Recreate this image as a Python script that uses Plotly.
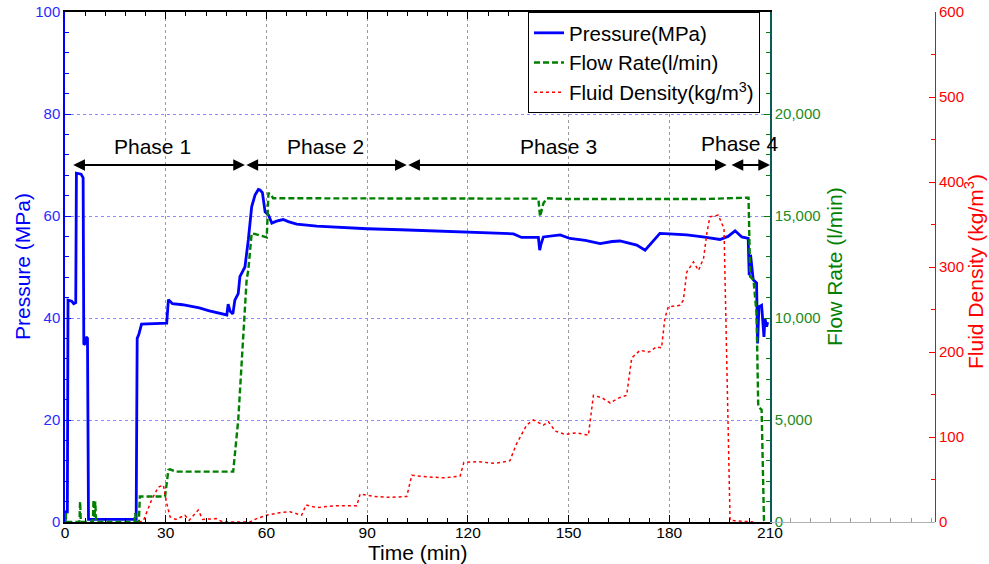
import plotly.graph_objects as go

# ---------------- data ----------------
pressure_time = [0, 0.3, 0.7, 0.9, 2.0, 2.6, 3.2, 3.4, 4.8, 5.4, 5.6, 6.0, 6.3, 6.7, 7.0,
                 21.2, 21.5, 22.0, 22.8, 26.0, 30.3, 30.8, 32.0, 35.0, 38.0, 40.0, 43.0, 46.0,
                 48.2, 48.6, 49.2, 50.0, 50.6, 51.6, 52.1, 53.6, 54.6, 55.6, 56.6, 57.6, 58.1,
                 58.8, 59.6, 60.6, 61.6, 63.0, 65.0, 66.5, 69.0, 75.0, 80.0, 90.0, 100.0, 105.0,
                 110.0, 120.0, 130.0, 133.6, 136.0, 141.0, 141.4, 141.8, 142.5, 147.5, 150.4,
                 155.0, 159.4, 163.0, 165.3, 170.3, 172.8, 174.0, 175.2, 177.2, 180.0, 185.2,
                 190.0, 195.1, 197.5, 199.6, 201.6, 203.5, 203.8, 204.2, 205.0, 206.0, 206.3,
                 206.7, 207.5, 208.2, 208.5, 209.0, 209.3]
pressure_mpa = [0, 2.0, 2.0, 43.5, 43.3, 42.8, 43.0, 68.4, 68.2, 67.5, 34.8, 35.0, 36.3, 36.0, 0.5,
                0.5, 36.0, 36.8, 38.8, 38.9, 39.0, 43.6, 42.8, 42.6, 42.3, 42.0, 41.4, 41.0,
                40.6, 42.7, 41.3, 40.8, 43.5, 44.8, 48.1, 50.0, 55.3, 61.8, 64.1, 65.2, 65.1,
                64.6, 60.8, 60.2, 58.6, 59.0, 59.3, 58.9, 58.4, 58.0, 57.8, 57.5, 57.3, 57.2,
                57.0, 56.8, 56.6, 56.5, 55.8, 55.8, 53.3, 54.5, 55.9, 56.3, 55.6,
                55.2, 54.6, 55.0, 55.1, 54.3, 53.3, 54.2, 55.3, 56.6, 56.5, 56.3,
                55.9, 55.4, 56.0, 57.1, 55.9, 55.6, 48.4, 52.4, 47.5, 46.9, 35.0,
                42.2, 42.5, 36.3, 39.9, 38.3, 39.2]

flow_time = [0, 0.2, 0.4, 4.3, 4.5, 4.7, 8.3, 8.5, 8.8, 9.0, 9.3, 20.7, 20.9, 21.2, 22.0, 22.3,
             29.8, 30.8, 31.3, 33.0, 49.8, 50.1, 51.6, 54.1, 54.6, 55.6, 57.0, 60.1, 60.6, 61.1,
             62.0, 100.0, 141.0, 141.5, 142.5, 143.5, 150.0, 190.0, 203.1, 203.6, 204.1, 205.1,
             206.0, 206.5, 207.5, 208.2, 208.5]
flow_lpm = [0, 440, 0, 0, 1000, 0, 0, 1080, 200, 1000, 0, 0, 440, 0, 0, 1250,
            1250, 2550, 2580, 2470, 2470, 2470, 5000, 11860, 12350, 14150, 14100, 13950, 16110, 16110,
            15870, 15850, 15850, 14970, 15620, 15870, 15830, 15830, 15915, 15900, 12025, 11860,
            10200, 5650, 5500, 100, 0]

density_time = [22.0, 23.3, 25.8, 27.8, 29.3, 30.3, 31.3, 33.0, 35.7, 37.0, 39.7, 41.0, 45.0, 47.0,
                55.1, 57.1, 60.1, 64.0, 67.0, 70.5, 71.8, 75.0, 80.0, 86.9, 87.9, 92.0, 97.0,
                101.8, 103.3, 108.0, 113.0, 117.7, 118.8, 123.0, 128.0, 132.5, 134.5, 137.5,
                139.5, 142.5, 144.0, 146.0, 149.0, 152.4, 155.9, 157.4, 160.0, 162.4, 165.0,
                167.3, 168.8, 171.3, 174.0, 176.2, 177.7, 178.7, 179.7, 183.2, 184.2, 185.2,
                187.2, 188.7, 190.2, 191.2, 192.1, 194.6, 196.1, 196.3, 198.1, 205.0]
density_kgm3 = [0, 1, 26, 41, 43.5, 22, 6, 3, 8, 2, 14, 3, 4, 0,
                0, 4, 8, 11, 12, 8, 20, 17, 19, 19, 33, 30, 29,
                30, 55, 53, 52, 54, 70, 71, 69, 72, 92, 114,
                120, 114, 118, 107, 103, 105, 102, 149, 146, 140, 146,
                149, 193, 202, 200, 206, 205, 240, 253, 255, 261, 294,
                306, 296, 310, 340, 359, 361, 347, 345, 2, 0]

time_ticks = [0, 30, 60, 90, 120, 150, 180, 210]
pressure_ticks = [0, 20, 40, 60, 80, 100]
flow_ticks = [0, 5000, 10000, 15000, 20000]
density_ticks = [0, 100, 200, 300, 400, 500, 600]

phase_names = ["Phase 1", "Phase 2", "Phase 3", "Phase 4"]
phase_start = [2.0, 53.6, 101.8, 198.1]
phase_end = [53.6, 101.8, 197.1, 210.0]
phase_label_time = [26.2, 77.5, 147.0, 200.8]
phase_label_pressure = [73.7, 73.7, 73.7, 74.3]
phase_arrow_pressure = 70

# ---------------- layout geometry ----------------
W, H = 989, 564
FONT = "Liberation Sans, Arial, sans-serif"
x0, x1 = 65 / W, 770 / W
y0, y1 = 1 - 522 / H, 1 - 12 / H
dens_pos = 935 / W
BLUE = "#0000ff"
GREEN = "#008000"
RED = "#ff0000"

fig = go.Figure()
fig.add_trace(go.Scatter(x=pressure_time, y=pressure_mpa, mode="lines", name="Pressure(MPa)",
                         line=dict(color=BLUE, width=2.8), yaxis="y"))
fig.add_trace(go.Scatter(x=flow_time, y=flow_lpm, mode="lines", name="Flow Rate(l/min)",
                         line=dict(color=GREEN, width=2.4, dash="6px,3px"), yaxis="y2"))
fig.add_trace(go.Scatter(x=density_time, y=density_kgm3, mode="lines",
                         name="Fluid Density(kg/m<sup>3</sup>)",
                         line=dict(color=RED, width=1.5, dash="dot"), yaxis="y3"))
# carrier for the extended bottom axis under the density axis
fig.add_trace(go.Scatter(x=[None], y=[None], xaxis="x2", yaxis="y3", showlegend=False,
                         hoverinfo="skip"))

annotations = []
for s, e in zip(phase_start, phase_end):
    annotations.append(dict(x=e, y=phase_arrow_pressure, ax=s, ay=phase_arrow_pressure,
                            xref="x", yref="y", axref="x", ayref="y", text="",
                            showarrow=True, arrowside="end+start", arrowhead=2,
                            startarrowhead=2, arrowsize=1.3, startarrowsize=1.3,
                            arrowwidth=1.8, arrowcolor="black"))
for name, t, p in zip(phase_names, phase_label_time, phase_label_pressure):
    annotations.append(dict(x=t, y=p, xref="x", yref="y", text=name, showarrow=False,
                            xanchor="center", yanchor="middle",
                            font=dict(family=FONT, size=21, color="black")))

annotations += [
    dict(x=23 / W, y=1 - 267 / H, xref="paper", yref="paper", text="Pressure (MPa)",
         xanchor="center", yanchor="middle",
         textangle=-90, showarrow=False, font=dict(family=FONT, size=21, color=BLUE)),
    dict(x=835 / W, y=1 - 267 / H, xref="paper", yref="paper", text="Flow Rate (l/min)",
         xanchor="center", yanchor="middle",
         textangle=-90, showarrow=False, font=dict(family=FONT, size=21, color=GREEN)),
    dict(x=974 / W, y=1 - 272 / H, xref="paper", yref="paper",
         text="Fluid Density (kg/m<sup>3</sup>)", xanchor="center", yanchor="middle",
         textangle=-90, showarrow=False, font=dict(family=FONT, size=21, color=RED)),
    dict(x=418 / W, y=1 - 552 / H, xref="paper", yref="paper", text="Time (min)",
         xanchor="center", yanchor="middle",
         showarrow=False, font=dict(family=FONT, size=21, color="black")),
]

fig.update_layout(
    width=W, height=H,
    margin=dict(l=0, r=0, t=0, b=0, autoexpand=False),
    paper_bgcolor="white", plot_bgcolor="white",
    font=dict(family=FONT, size=15, color="black"),
    showlegend=True,
    legend=dict(x=528 / W, y=y1, xanchor="left", yanchor="top",
                bgcolor="white", bordercolor="black", borderwidth=1,
                font=dict(family=FONT, size=20.5, color="black"),
                itemwidth=30, tracegroupgap=0),
    xaxis=dict(domain=[x0, x1], range=[0, 210], tickvals=time_ticks, automargin=False,
               ticks="inside", ticklen=7, tickwidth=1, tickcolor="black",
               ticklabelstandoff=-4,
               minor=dict(dtick=6, tick0=0, ticks="inside", ticklen=4, tickcolor="black",
                          showgrid=False),
               showline=True, linecolor="black", linewidth=1.5, mirror="ticks",
               showgrid=True, gridcolor="#9a9a9a", griddash="dot", gridwidth=1,
               zeroline=False, tickfont=dict(family=FONT, size=15.5, color="black"),
               anchor="y"),
    xaxis2=dict(domain=[x1, dens_pos], range=[210, 210 + 165 * 210 / 705],
                anchor="y3", tick0=210, dtick=6, ticks="inside", ticklen=4, automargin=False,
                tickcolor="#9a9a9a", showticklabels=False, showline=True,
                linecolor="#b0b0b0", linewidth=1, showgrid=False, zeroline=False),
    yaxis=dict(domain=[y0, y1], range=[0, 100], tickvals=pressure_ticks, automargin=False,
               ticks="inside", ticklen=6, tickcolor=BLUE,
               minor=dict(dtick=4, tick0=0, ticks="inside", ticklen=4, tickcolor=BLUE,
                          showgrid=False),
               showline=True, linecolor=BLUE, linewidth=1.5,
               showgrid=True, gridcolor="#8c8cff", griddash="dot", gridwidth=1,
               zeroline=False, tickfont=dict(family=FONT, size=15, color="#2a2aff"),
               anchor="x"),
    yaxis2=dict(overlaying="y", side="right", anchor="x", range=[0, 25000], automargin=False,
                tickvals=flow_ticks, tickformat=",d",
                ticks="inside", ticklen=6, tickcolor=GREEN,
                minor=dict(dtick=1000, tick0=0, ticks="inside", ticklen=4, tickcolor=GREEN,
                           showgrid=False),
                showline=True, linecolor="#0b5a5a", linewidth=1.5,
                showgrid=False, zeroline=False,
                tickfont=dict(family=FONT, size=15, color="#228b22")),
    yaxis3=dict(overlaying="y", side="right", anchor="free", position=dens_pos,
                range=[0, 600], tickvals=density_ticks, automargin=False,
                ticks="inside", ticklen=6, tickcolor=RED,
                minor=dict(dtick=50, tick0=0, ticks="inside", ticklen=4, tickcolor=RED,
                           showgrid=False),
                showline=True, linecolor=RED, linewidth=1,
                showgrid=False, zeroline=False,
                tickfont=dict(family=FONT, size=15, color=RED)),
    annotations=annotations,
)

fig.write_html("out.html")
